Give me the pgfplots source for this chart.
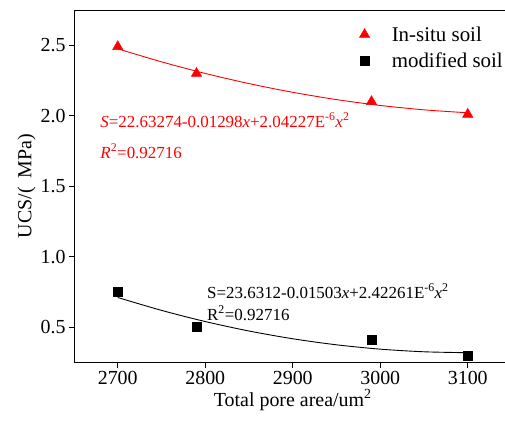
\documentclass[border=0pt]{standalone}
\usepackage{pgfplots}
\pgfplotsset{compat=1.18}
\usepackage{fontspec}
\setmainfont{Liberation Serif}
\usetikzlibrary{calc}
\begin{document}
\begin{tikzpicture}
\begin{axis}[
  scale only axis,
  width=437.5bp, height=352.5bp,
  xmin=2650, xmax=3150, ymin=0.25, ymax=2.75,
  xtick={2700,2800,2900,3000,3100},
  ytick={0.5,1.0,1.5,2.0,2.5},
  tick align=outside, xtick pos=bottom, ytick pos=left,
  major tick length=5bp,
  tick style={black, line width=0.8pt},
  axis line style={line width=0.8pt},
  /pgf/number format/assume math mode=true,
  /pgf/number format/set thousands separator={},
  yticklabel style={/pgf/number format/fixed, /pgf/number format/precision=1, /pgf/number format/fixed zerofill},
  ticklabel style={font=\rmfamily\fontsize{20}{24}\selectfont},
  label style={font=\rmfamily\fontsize{20}{24}\selectfont},
  xlabel={Total pore area/um\textsuperscript{2}},
  ylabel={UCS/(\;\,MPa)},
  xlabel style={yshift=2bp},
  ylabel style={yshift=-2bp},
  legend style={draw=none, fill=none, at={(0.645,0.965)}, anchor=north west,
    font=\rmfamily\fontsize{21}{25}\selectfont, row sep=6bp,
    /tikz/every odd column/.append style={column sep=20bp}},
  legend cell align=left,
]
\addplot[red, only marks, mark=triangle*, mark size=6bp] coordinates {
(2700,2.49) (2790,2.30) (2990,2.10) (3100,2.01)};
\addlegendentry{In-situ soil}
\addplot[black, only marks, mark=square*, mark size=4.5bp] coordinates {
(2700,0.75) (2790,0.505) (2990,0.41) (3100,0.30)};
\addlegendentry{modified soil}
\addplot[red, line width=0.9pt, smooth, forget plot] coordinates {
(2700,2.47489) (2750,2.38241) (2800,2.30014) (2850,2.22808) (2900,2.16623)
(2950,2.11460) (3000,2.07317) (3050,2.04196) (3100,2.02095)};
\addplot[black, line width=0.9pt, smooth, forget plot] coordinates {
(2700,0.71103) (2750,0.61969) (2800,0.54046) (2850,0.47335) (2900,0.41835)
(2950,0.37546) (3000,0.34469) (3050,0.32603) (3100,0.31948)};
\node[anchor=base west, red, font=\rmfamily\fontsize{17}{20}\selectfont, inner sep=0pt] at (axis cs:2680,1.92)
  {\textit{S}=22.63274-0.01298\textit{x}+2.04227E\textsuperscript{-6}\textit{x}\textsuperscript{2}};
\node[anchor=base west, red, font=\rmfamily\fontsize{17}{20}\selectfont, inner sep=0pt] at (axis cs:2680,1.70)
  {\textit{R}\textsuperscript{2}=0.92716};
\node[anchor=base west, black, font=\rmfamily\fontsize{17}{20}\selectfont, inner sep=0pt] at (axis cs:2802,0.707)
  {S=23.6312-0.01503\textit{x}+2.42261E\textsuperscript{-6}\textit{x}\textsuperscript{2}};
\node[anchor=base west, black, font=\rmfamily\fontsize{17}{20}\selectfont, inner sep=0pt] at (axis cs:2802,0.55)
  {R\textsuperscript{2}=0.92716};
\end{axis}
\pgfresetboundingbox
\path[use as bounding box] ($(current axis.south west)+(-74bp,-61bp)$) rectangle ($(current axis.south west)+(431bp,362.5bp)$);
\end{tikzpicture}
\end{document}
